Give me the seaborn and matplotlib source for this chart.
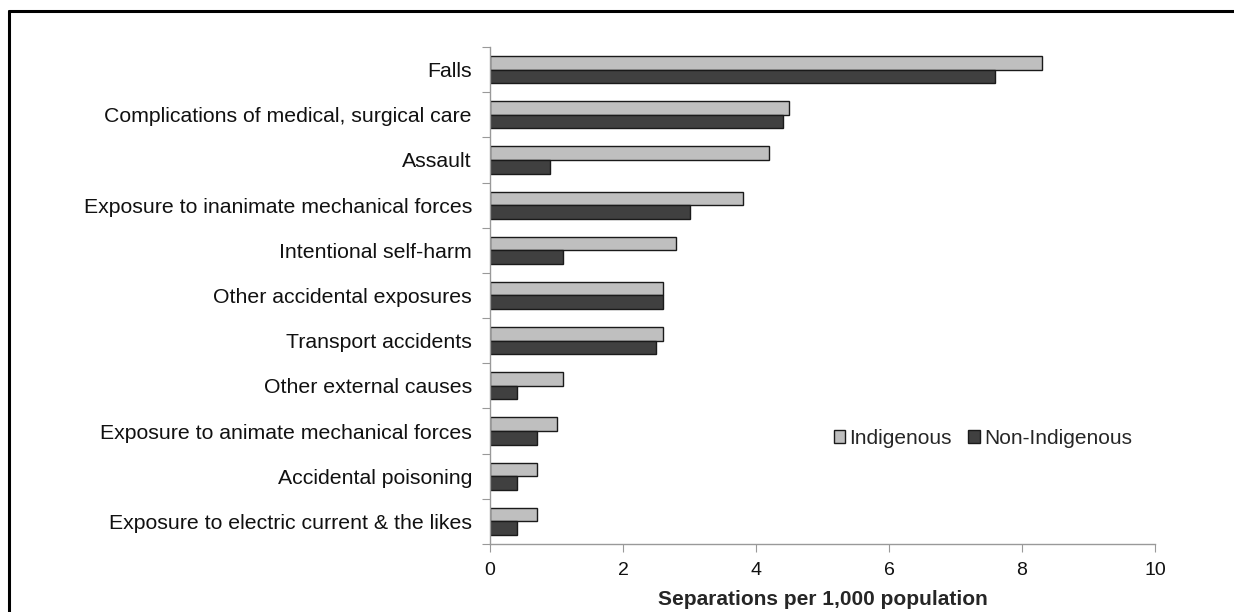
import pandas as pd
import numpy as np
import matplotlib.pyplot as plt
import seaborn as sns
from matplotlib.lines import Line2D
from matplotlib.patches import Patch

causes = [
    "Falls",
    "Complications of medical, surgical care",
    "Assault",
    "Exposure to inanimate mechanical forces",
    "Intentional self-harm",
    "Other accidental exposures",
    "Transport accidents",
    "Other external causes",
    "Exposure to animate mechanical forces",
    "Accidental poisoning",
    "Exposure to electric current & the likes",
]
indigenous = [8.3, 4.5, 4.2, 3.8, 2.8, 2.6, 2.6, 1.1, 1.0, 0.7, 0.7]
non_indigenous = [7.6, 4.4, 0.9, 3.0, 1.1, 2.6, 2.5, 0.4, 0.7, 0.4, 0.4]
groups = ["Indigenous", "Non-Indigenous"]
colors = ["#BFBFBF", "#404040"]

df = pd.DataFrame({
    "cause": causes * 2,
    "rate": indigenous + non_indigenous,
    "group": [groups[0]] * len(causes) + [groups[1]] * len(causes),
})

sns.set_style("white")
plt.rcParams['font.family'] = ['Liberation Sans', 'DejaVu Sans']

fig = plt.figure(figsize=(12.34, 6.12), dpi=100)
ax = fig.add_axes([490 / 1234, 1 - 544 / 612, 665 / 1234, 497 / 612])

sns.barplot(data=df, y="cause", x="rate", hue="group", order=causes,
            hue_order=groups, palette=colors, orient="h", width=0.6,
            edgecolor="#1a1a1a", linewidth=1.0, ax=ax, legend=False)

n = len(causes)
ax.set_xlim(0, 10)
ax.set_ylim(n - 0.5, -0.5)
ax.set_xticks(np.arange(0, 11, 2))
ax.set_yticks(np.arange(-0.5, n, 1.0))
ax.set_yticklabels([])
ax.set_yticks(np.arange(n), minor=True)
ax.set_yticklabels(causes, minor=True, fontsize=15.3, color="#111111")
ax.tick_params(axis="y", which="minor", length=0, pad=13)
ax.tick_params(axis="y", which="major", length=6, color="#999999", direction="out", left=True)
ax.tick_params(axis="x", length=6, color="#999999", direction="out", bottom=True,
               labelsize=14, labelcolor="#111111", pad=7)

for s in ["top", "right"]:
    ax.spines[s].set_visible(False)
for s in ["left", "bottom"]:
    ax.spines[s].set_color("#999999")
    ax.spines[s].set_linewidth(1.0)

ax.set_ylabel("")
ax.set_xlabel("Separations per 1,000 population", fontsize=15, fontweight="bold",
              labelpad=8)

handles = [Patch(facecolor=c, edgecolor="#1a1a1a", linewidth=1.0) for c in colors]
ax.legend(handles, groups, ncol=2, frameon=False, loc="center",
          bbox_to_anchor=(0.741, 0.213), fontsize=15, handlelength=0.55,
          handleheight=0.55, handletextpad=0.2, columnspacing=0.8)

# outer frame (left and top only)
fig.add_artist(Line2D([9 / 1234, 9 / 1234], [0, 1 - 11 / 612], transform=fig.transFigure,
                      color="black", linewidth=2.2))
fig.add_artist(Line2D([9 / 1234, 1], [1 - 11 / 612, 1 - 11 / 612], transform=fig.transFigure,
                      color="black", linewidth=2.2))

fig.savefig("out.png", dpi=100)
